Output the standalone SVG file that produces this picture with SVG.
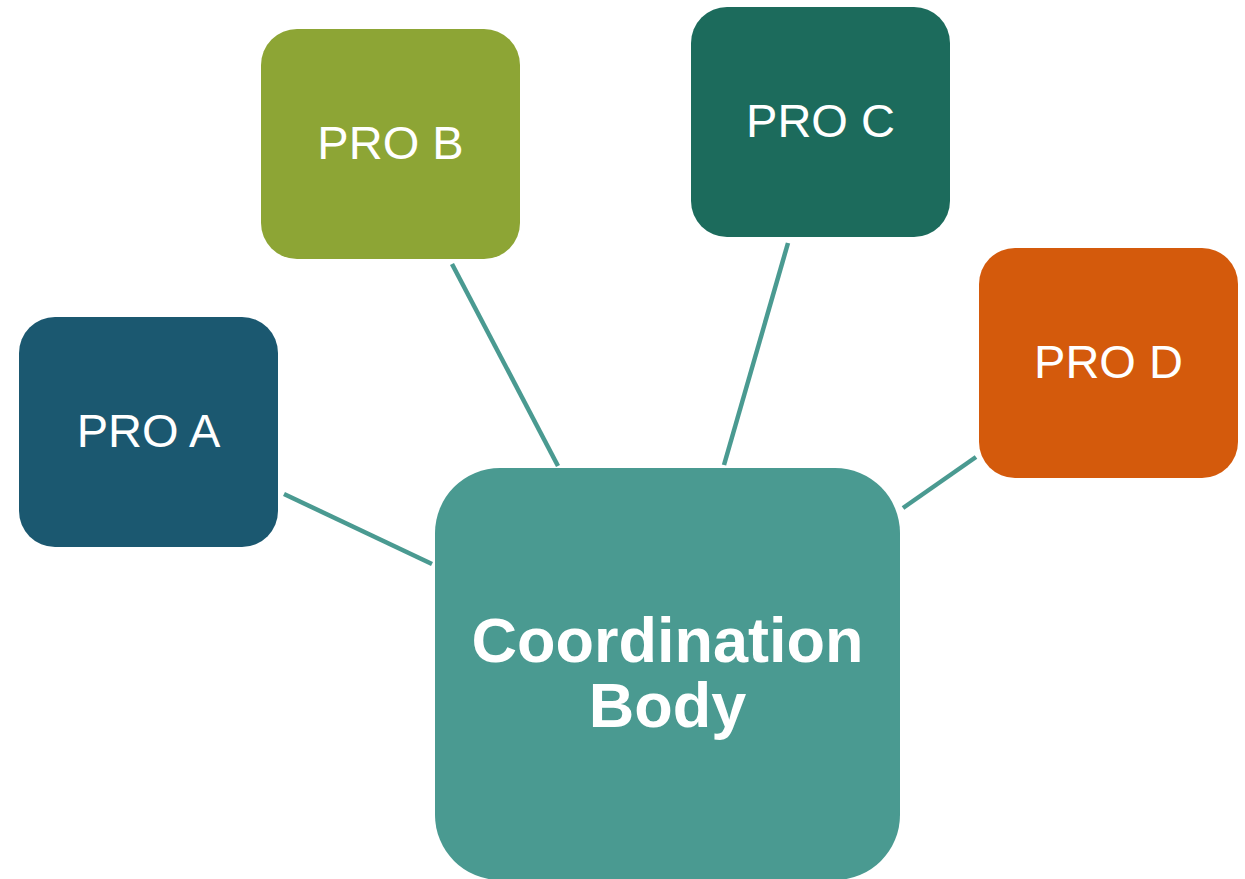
<svg xmlns="http://www.w3.org/2000/svg" width="1245" height="879" viewBox="0 0 1245 879">
<style>
.lbl{font-family:"Liberation Sans",Arial,sans-serif;font-size:47px;fill:#ffffff;text-anchor:middle}
.big{font-family:"Liberation Sans",Arial,sans-serif;font-size:63px;font-weight:bold;fill:#ffffff;text-anchor:middle}
.conn{stroke:#4A9A91;stroke-width:4.5;fill:none}
</style>
<rect width="1245" height="879" fill="#ffffff"/>
<g id="connectors">
<line class="conn" x1="284" y1="494" x2="432" y2="564"/>
<line class="conn" x1="452" y1="264" x2="558" y2="466"/>
<line class="conn" x1="788" y1="243" x2="724" y2="465"/>
<line class="conn" x1="976" y1="457" x2="903" y2="508"/>
</g>
<g id="pro-a">
<rect x="19" y="317" width="259" height="230" rx="36" fill="#1B5870"/>
<text class="lbl" x="148.5" y="447">PRO A</text>
</g>
<g id="pro-b">
<rect x="261" y="29" width="259" height="230" rx="36" fill="#8DA535"/>
<text class="lbl" x="390.5" y="159">PRO B</text>
</g>
<g id="pro-c">
<rect x="691" y="7" width="259" height="230" rx="36" fill="#1C6B5C"/>
<text class="lbl" x="820.5" y="137">PRO C</text>
</g>
<g id="pro-d">
<rect x="979" y="248" width="259" height="230" rx="36" fill="#D45A0C"/>
<text class="lbl" x="1108.5" y="378">PRO D</text>
</g>
<g id="coordination-body">
<rect x="435" y="468" width="465" height="412" rx="65" fill="#4A9A91"/>
<text class="big" x="667.5" y="662">Coordination</text>
<text class="big" x="667.5" y="727">Body</text>
</g>
</svg>
